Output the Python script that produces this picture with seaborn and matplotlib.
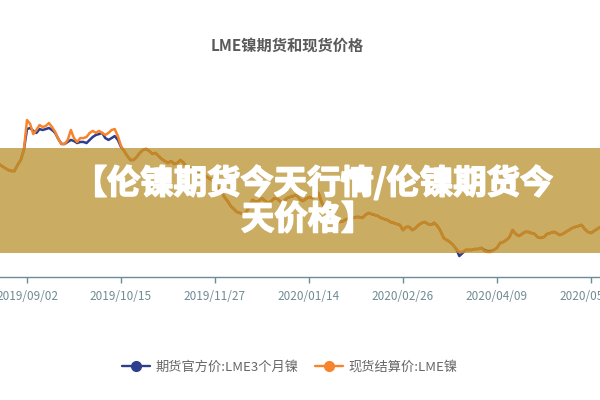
import matplotlib
matplotlib.use("Agg")
import matplotlib.pyplot as plt
import matplotlib.patheffects as pe
import seaborn as sns
import pandas as pd
from matplotlib.patches import Rectangle
from matplotlib.lines import Line2D

# ---------------- data ----------------
title = "LME镍期货和现货价格"
series_names = ["期货官方价:LME3个月镍", "现货结算价:LME镍"]
tick_positions = [0, 30, 60, 90, 120, 150, 180]
tick_labels = ["2019/09/02", "2019/10/15", "2019/11/27", "2020/01/14",
               "2020/02/26", "2020/04/09", "2020/05/21"]
banner_line1 = "【伦镍期货今天行情/伦镍期货今"
banner_line2 = "天价格】"

day_index = list(range(-9, 185))

futures = [
    16140, 16030, 15920, 15820, 15760, 15760, 16090, 16360, 16900,
    18040, 18100, 17940, 17830, 18040, 17990, 18040, 18100, 17990, 17830,
    17500, 17230, 17230, 17340, 17450, 17390, 17280, 17340, 17340, 17280,
    17450, 17610, 17720, 17770, 17830, 17550, 17450, 17550, 17660, 17450,
    17070, 16850, 16580, 16360, 16360, 16520, 16740, 16900, 16960, 16850,
    16690, 16740, 16580, 16410, 16300, 16200, 16300, 16140, 16200, 16360,
    16200, 15980, 15920, 15760, 15710, 15600, 15650, 15490, 15380, 15270,
    15110, 14840, 14620, 14350, 14130, 13860, 13700, 13530, 13480, 13420,
    13530, 13860, 14190, 14080, 14130, 14290, 14130, 14020, 14130, 14290,
    14240, 14080, 14130, 14290, 14350, 14400, 14460, 14240, 14130, 14240,
    14350, 14290, 14400, 14570, 14080, 13750, 13590, 13420, 13260, 13100,
    12990, 13040, 13150, 13150, 13210, 13260, 13260, 13210, 13370, 13480,
    13420, 13370, 13320, 13210, 13150, 13100, 12990, 12940, 12880, 12830,
    12550, 12720, 12720, 12550, 12660, 12830, 12940, 12990, 12880, 12830,
    12940, 12770, 12500, 12120, 12010, 11900, 11740, 11520, 11140, 11300,
    11470, 11470, 11470, 11520, 11520, 11580, 11470, 11410, 11410, 11470,
    11580, 11850, 11900, 12010, 12170, 12550, 12340, 12230, 12340, 12450,
    12450, 12390, 12340, 12170, 12120, 12170, 12340, 12390, 12450, 12390,
    12280, 12340, 12450, 12550, 12660, 12720, 12770, 12830, 12610, 12450,
    12390, 12500, 12610, 12720, 12770,
]

spot = [
    16140, 16030, 15920, 15820, 15760, 15760, 16090, 16360, 16900,
    18530, 18320, 17770, 17990, 18260, 18150, 18210, 18370, 18150, 17880,
    17500, 17230, 17230, 17450, 17990, 17550, 17340, 17550, 17550, 17610,
    17830, 17940, 17830, 17940, 17830, 17720, 17830, 17990, 18040, 17660,
    17120, 16850, 16580, 16360, 16360, 16520, 16740, 16900, 16960, 16850,
    16690, 16740, 16580, 16410, 16300, 16200, 16300, 16140, 16200, 16360,
    16200, 15980, 15920, 15760, 15710, 15600, 15650, 15490, 15380, 15270,
    15110, 14840, 14620, 14350, 14130, 13860, 13700, 13530, 13480, 13420,
    13530, 13860, 14190, 14080, 14130, 14290, 14130, 14020, 14130, 14290,
    14240, 14080, 14130, 14290, 14350, 14400, 14460, 14240, 14130, 14240,
    14350, 14290, 14400, 14570, 14080, 13750, 13590, 13420, 13260, 13100,
    12990, 13040, 13150, 13150, 13210, 13260, 13260, 13210, 13370, 13480,
    13420, 13370, 13320, 13210, 13150, 13100, 12990, 12940, 12880, 12830,
    12550, 12720, 12720, 12550, 12660, 12830, 12940, 12990, 12880, 12830,
    12940, 12770, 12500, 12120, 12010, 11900, 11740, 11520, 11360, 11360,
    11470, 11470, 11470, 11520, 11520, 11580, 11410, 11360, 11360, 11470,
    11580, 11850, 11900, 12010, 12170, 12550, 12340, 12230, 12340, 12450,
    12450, 12390, 12340, 12170, 12120, 12170, 12340, 12390, 12450, 12390,
    12280, 12340, 12450, 12550, 12660, 12720, 12770, 12830, 12610, 12450,
    12390, 12500, 12610, 12720, 12770,
]

# ---------------- style ----------------
blue = "#2E3E8C"
orange = "#F7842C"
axis_color = "#6F8C95"
text_gray = "#666666"

sns.set_theme(style="white")
plt.rcParams["font.family"] = ["Noto Sans CJK SC", "DejaVu Sans"]

n = len(day_index)
df = pd.DataFrame({
    "idx": day_index + day_index,
    "price": futures + spot,
    "series": [series_names[0]] * n + [series_names[1]] * n,
})

fig = plt.figure(figsize=(6, 4), dpi=100)
fig.patch.set_facecolor("white")
ax = fig.add_axes([0.0, (400 - 277) / 400, 1.0, (277 - 93) / 400])
ax.set_facecolor("none")

sns.lineplot(data=df, x="idx", y="price", hue="series",
             palette=[blue, orange], linewidth=1.8, legend=False,
             sort=False, ax=ax)

px_per_day = 3.133
ax.set_xlim(-27 / px_per_day, 573 / px_per_day)
ax.set_ylim(10000, 20000)
ax.set_xlabel("")
ax.set_ylabel("")
ax.set_yticks([])
for s in ["top", "right", "left"]:
    ax.spines[s].set_visible(False)
ax.spines["bottom"].set_color(axis_color)
ax.spines["bottom"].set_linewidth(1.0)
ax.set_xticks(tick_positions)
ax.set_xticklabels(tick_labels)
ax.tick_params(axis="x", direction="out", length=4, width=1.0,
               color=axis_color, labelcolor=axis_color, labelsize=8.5, pad=5,
               bottom=True)

# title
fig.text(0.479, 1 - 46 / 400, title, ha="center", va="center",
         fontsize=11, fontweight="bold", color="#5a5a5a")

# legend
handles = [
    Line2D([0], [0], color=blue, lw=1.7, marker="o", markersize=7,
           markerfacecolor=blue, markeredgecolor=blue),
    Line2D([0], [0], color=orange, lw=1.7, marker="o", markersize=7,
           markerfacecolor=orange, markeredgecolor=orange),
]
leg = fig.legend(handles, series_names, loc="center",
                 bbox_to_anchor=(0.483, 1 - 367 / 400), ncol=2, frameon=False,
                 fontsize=9.5, handlelength=2.1, handletextpad=0.4,
                 columnspacing=1.3)
for t in leg.get_texts():
    t.set_color(text_gray)

# banner overlay (semi-transparent so the lines show through)
banner = Rectangle((0, (400 - 253) / 400), 1, 105 / 400,
                   transform=fig.transFigure,
                   facecolor=(180 / 255, 137 / 255, 33 / 255),
                   alpha=0.7, edgecolor="none", zorder=5)
fig.add_artist(banner)
heavy = [pe.withStroke(linewidth=1.2, foreground="white")]
fig.text(0.523, 1 - 183 / 400, banner_line1, ha="center", va="center",
         fontsize=24, fontweight="heavy", color="white", zorder=6,
         path_effects=heavy)
fig.text(0.513, 1 - 220 / 400, banner_line2, ha="center", va="center",
         fontsize=24, fontweight="heavy", color="white", zorder=6,
         path_effects=heavy)

fig.savefig("out.png", dpi=100, facecolor="white")
